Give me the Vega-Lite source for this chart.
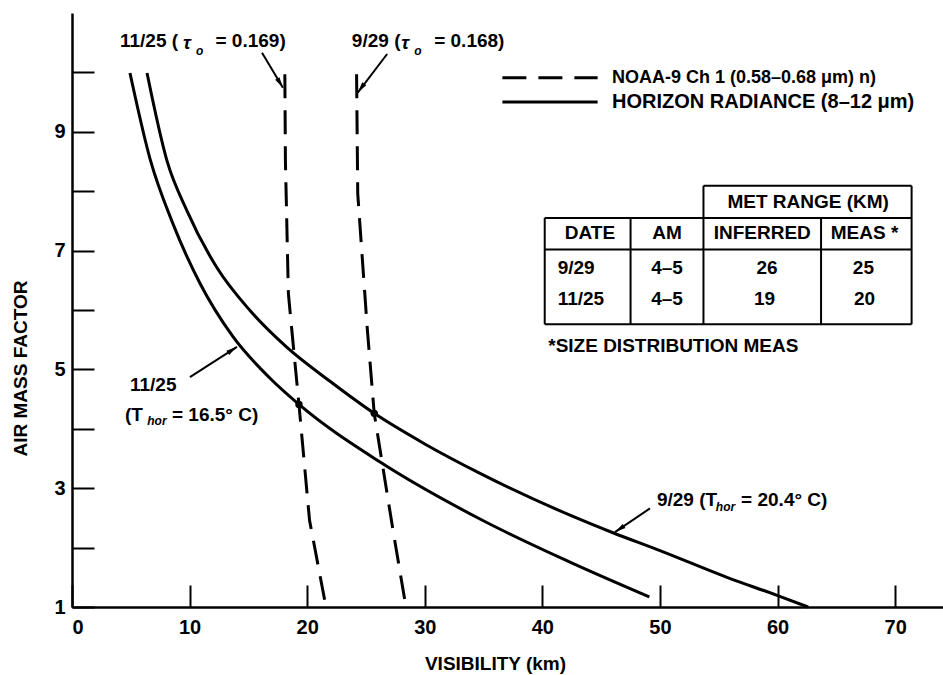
{
  "$schema": "https://vega.github.io/schema/vega-lite/v6.json",
  "width": 871,
  "height": 594,
  "autosize": "none",
  "padding": {"left": 72, "top": 13, "right": 0, "bottom": 68},
  "background": "white",
  "config": {
    "view": {"stroke": null},
    "font": "Liberation Sans",
    "text": {"font": "Liberation Sans", "fontWeight": "bold", "color": "black"},
    "axis": {
      "labelFont": "Liberation Sans", "labelFontWeight": "bold", "labelFontSize": 20, "labelColor": "black",
      "titleFont": "Liberation Sans", "titleFontWeight": "bold", "titleFontSize": 19, "titleColor": "black",
      "domainColor": "black", "domainWidth": 2.5, "tickColor": "black", "tickWidth": 2, "grid": false
    }
  },
  "datasets": {
    "curves": [
      {"series": "hr1125", "x": 4.93, "y": 9.99},
      {"series": "hr1125", "x": 6.63, "y": 8.55},
      {"series": "hr1125", "x": 8.59, "y": 7.45},
      {"series": "hr1125", "x": 10.88, "y": 6.45},
      {"series": "hr1125", "x": 13.69, "y": 5.55},
      {"series": "hr1125", "x": 16.84, "y": 4.85},
      {"series": "hr1125", "x": 19.3, "y": 4.41},
      {"series": "hr1125", "x": 26.2, "y": 3.44},
      {"series": "hr1125", "x": 34.9, "y": 2.46},
      {"series": "hr1125", "x": 42.3, "y": 1.76},
      {"series": "hr1125", "x": 49.1, "y": 1.17},
      {"series": "hr929", "x": 6.38, "y": 9.99},
      {"series": "hr929", "x": 8.08, "y": 8.51},
      {"series": "hr929", "x": 9.78, "y": 7.67},
      {"series": "hr929", "x": 12.33, "y": 6.71},
      {"series": "hr929", "x": 15.14, "y": 5.99},
      {"series": "hr929", "x": 18.28, "y": 5.37},
      {"series": "hr929", "x": 21.94, "y": 4.8},
      {"series": "hr929", "x": 25.7, "y": 4.26},
      {"series": "hr929", "x": 30.0, "y": 3.745},
      {"series": "hr929", "x": 34.7, "y": 3.25},
      {"series": "hr929", "x": 42.3, "y": 2.55},
      {"series": "hr929", "x": 46.0, "y": 2.25},
      {"series": "hr929", "x": 50.0, "y": 1.95},
      {"series": "hr929", "x": 55.7, "y": 1.5},
      {"series": "hr929", "x": 59.9, "y": 1.2},
      {"series": "hr929", "x": 62.6, "y": 1.0}
    ],
    "noaa": [
      {"series": "n1125", "x": 18.1, "y": 9.97},
      {"series": "n1125", "x": 18.15, "y": 8.5},
      {"series": "n1125", "x": 18.4, "y": 6.28},
      {"series": "n1125", "x": 18.8, "y": 5.44},
      {"series": "n1125", "x": 19.3, "y": 4.41},
      {"series": "n1125", "x": 20.2, "y": 2.46},
      {"series": "n1125", "x": 21.6, "y": 1.0},
      {"series": "n929", "x": 24.2, "y": 9.97},
      {"series": "n929", "x": 24.3, "y": 7.96},
      {"series": "n929", "x": 25.1, "y": 5.71},
      {"series": "n929", "x": 25.7, "y": 4.26},
      {"series": "n929", "x": 27.3, "y": 2.29},
      {"series": "n929", "x": 28.4, "y": 1.0}
    ],
    "dots": [
      {"x": 19.3, "y": 4.41},
      {"x": 25.7, "y": 4.26}
    ],
    "tablelines": [
      {"x": 53.7, "x2": 71.4, "y": 8.09, "y2": 8.09},
      {"x": 40.2, "x2": 71.4, "y": 7.55, "y2": 7.55},
      {"x": 40.2, "x2": 71.4, "y": 7.02, "y2": 7.02},
      {"x": 40.2, "x2": 71.4, "y": 5.76, "y2": 5.76},
      {"x": 40.2, "x2": 40.2, "y": 5.76, "y2": 7.55},
      {"x": 47.5, "x2": 47.5, "y": 5.76, "y2": 7.55},
      {"x": 53.7, "x2": 53.7, "y": 5.76, "y2": 8.09},
      {"x": 63.7, "x2": 63.7, "y": 5.76, "y2": 7.55},
      {"x": 71.4, "x2": 71.4, "y": 5.76, "y2": 8.09}
    ],
    "arrows": [
      {"x": 16.16, "x2": 17.94, "y": 10.33, "y2": 9.74},
      {"x": 26.8, "x2": 24.3, "y": 10.31, "y2": 9.66},
      {"x": 10.03, "x2": 14.03, "y": 4.87, "y2": 5.38},
      {"x": 49.15, "x2": 46.17, "y": 2.66, "y2": 2.26}
    ],
    "tabletext": [
      {"t": "MET RANGE (KM)", "x": 62.6, "y": 7.81},
      {"t": "DATE", "x": 44.05, "y": 7.29},
      {"t": "AM", "x": 50.6, "y": 7.29},
      {"t": "INFERRED", "x": 58.7, "y": 7.29},
      {"t": "MEAS *", "x": 67.4, "y": 7.29},
      {"t": "4–5", "x": 50.6, "y": 6.7},
      {"t": "26", "x": 59.1, "y": 6.7},
      {"t": "25", "x": 67.3, "y": 6.7},
      {"t": "4–5", "x": 50.6, "y": 6.19},
      {"t": "19", "x": 58.9, "y": 6.19},
      {"t": "20", "x": 67.4, "y": 6.19}
    ],
    "lefttext": [
      {"t": "9/29", "x": 41.3, "y": 6.7, "s": "tab"},
      {"t": "11/25", "x": 41.3, "y": 6.19, "s": "tab"},
      {"t": "*SIZE DISTRIBUTION MEAS", "x": 40.5, "y": 5.4, "s": "tab"},
      {"t": "NOAA-9 Ch 1 (0.58–0.68 μm)  n)", "x": 45.92, "y": 9.91, "s": "leg1"},
      {"t": "HORIZON RADIANCE (8–12 μm)", "x": 45.92, "y": 9.5, "s": "leg2"},
      {"t": "11/25 (", "x": 4.08, "y": 10.53, "s": "ann"},
      {"t": "= 0.169)", "x": 12.2, "y": 10.53, "s": "ann"},
      {"t": "9/29 (", "x": 23.8, "y": 10.53, "s": "ann"},
      {"t": "= 0.168)", "x": 30.8, "y": 10.53, "s": "ann"},
      {"t": "11/25", "x": 4.93, "y": 4.73, "s": "ann"},
      {"t": "(T", "x": 4.51, "y": 4.23, "s": "ann"},
      {"t": "= 16.5° C)", "x": 8.5, "y": 4.23, "s": "ann"},
      {"t": "9/29 (T", "x": 49.74, "y": 2.8, "s": "ann"},
      {"t": "= 20.4° C)", "x": 56.9, "y": 2.8, "s": "ann"}
    ],
    "tau": [
      {"t": "τ", "x": 9.45, "y": 10.5},
      {"t": "τ", "x": 28.0, "y": 10.5}
    ],
    "subs": [
      {"t": "o", "x": 10.55, "y": 10.36},
      {"t": "o", "x": 29.1, "y": 10.36},
      {"t": "hor", "x": 6.4, "y": 4.13},
      {"t": "hor", "x": 54.75, "y": 2.68}
    ]
  },
  "layer": [
    {
      "data": {"name": "curves"},
      "mark": {"type": "line", "color": "black", "strokeWidth": 3, "interpolate": "monotone"},
      "encoding": {
        "x": {"field": "x", "type": "quantitative", "scale": {"domain": [0, 74.07], "nice": false, "zero": false},
          "axis": {"values": [0, 10, 20, 30, 40, 50, 60, 70], "format": "d", "tickSize": -22, "labelPadding": 32, "title": "VISIBILITY  (km)", "titleX": 423, "titleY": 56, "titleBaseline": "middle", "titleAlign": "center"}},
        "y": {"field": "y", "type": "quantitative", "scale": {"domain": [1, 11], "nice": false, "zero": false},
          "axis": {"values": [1, 2, 3, 4, 5, 6, 7, 8, 9, 10], "format": "d", "tickSize": -22, "labelPadding": 29, "labelExpr": "datum.value % 2 == 1 ? datum.label : ''", "title": "AIR MASS FACTOR", "titleX": -52, "titleY": 355, "titleBaseline": "middle", "titleAlign": "center", "titleAngle": -90}},
        "detail": {"field": "series"}
      }
    },
    {
      "data": {"name": "noaa"},
      "mark": {"type": "line", "color": "black", "strokeWidth": 3, "strokeDash": [24, 12], "interpolate": "linear"},
      "encoding": {
        "x": {"field": "x", "type": "quantitative"},
        "y": {"field": "y", "type": "quantitative"},
        "detail": {"field": "series"},
        "order": {"field": "y", "sort": "descending"}
      }
    },
    {
      "data": {"name": "dots"},
      "mark": {"type": "point", "filled": true, "color": "black", "size": 55, "opacity": 1},
      "encoding": {"x": {"field": "x", "type": "quantitative"}, "y": {"field": "y", "type": "quantitative"}}
    },
    {
      "mark": {"type": "rule", "color": "black", "strokeWidth": 2.5},
      "encoding": {"y": {"datum": 11}}
    },
    {
      "data": {"name": "tablelines"},
      "mark": {"type": "rule", "color": "black", "strokeWidth": 2},
      "encoding": {"x": {"field": "x", "type": "quantitative"}, "x2": {"field": "x2"}, "y": {"field": "y", "type": "quantitative"}, "y2": {"field": "y2"}}
    },
    {
      "data": {"name": "arrows"},
      "mark": {"type": "rule", "color": "black", "strokeWidth": 2},
      "encoding": {"x": {"field": "x", "type": "quantitative"}, "x2": {"field": "x2"}, "y": {"field": "y", "type": "quantitative"}, "y2": {"field": "y2"}}
    },
    {
      "data": {"values": [{"x": 17.94, "y": 9.74}]},
      "mark": {"type": "point", "filled": true, "color": "black", "opacity": 1, "size": 100, "shape": "M0,0L0.5,2.2L-0.5,2.2Z", "angle": 149},
      "encoding": {"x": {"field": "x", "type": "quantitative"}, "y": {"field": "y", "type": "quantitative"}}
    },
    {
      "data": {"values": [{"x": 24.3, "y": 9.66}]},
      "mark": {"type": "point", "filled": true, "color": "black", "opacity": 1, "size": 100, "shape": "M0,0L0.5,2.2L-0.5,2.2Z", "angle": 216.6},
      "encoding": {"x": {"field": "x", "type": "quantitative"}, "y": {"field": "y", "type": "quantitative"}}
    },
    {
      "data": {"values": [{"x": 14.03, "y": 5.38}]},
      "mark": {"type": "point", "filled": true, "color": "black", "opacity": 1, "size": 100, "shape": "M0,0L0.5,2.2L-0.5,2.2Z", "angle": 57},
      "encoding": {"x": {"field": "x", "type": "quantitative"}, "y": {"field": "y", "type": "quantitative"}}
    },
    {
      "data": {"values": [{"x": 46.17, "y": 2.26}]},
      "mark": {"type": "point", "filled": true, "color": "black", "opacity": 1, "size": 100, "shape": "M0,0L0.5,2.2L-0.5,2.2Z", "angle": 235.6},
      "encoding": {"x": {"field": "x", "type": "quantitative"}, "y": {"field": "y", "type": "quantitative"}}
    },
    {
      "data": {"values": [{"x": 36.6, "x2": 44.7, "y": 9.91}]},
      "mark": {"type": "rule", "color": "black", "strokeWidth": 3, "strokeDash": [24, 12]},
      "encoding": {"x": {"field": "x", "type": "quantitative"}, "x2": {"field": "x2"}, "y": {"field": "y", "type": "quantitative"}}
    },
    {
      "data": {"values": [{"x": 36.6, "x2": 44.7, "y": 9.5}]},
      "mark": {"type": "rule", "color": "black", "strokeWidth": 3},
      "encoding": {"x": {"field": "x", "type": "quantitative"}, "x2": {"field": "x2"}, "y": {"field": "y", "type": "quantitative"}}
    },
    {
      "data": {"name": "tabletext"},
      "mark": {"type": "text", "fontSize": 19, "align": "center", "baseline": "middle"},
      "encoding": {"x": {"field": "x", "type": "quantitative"}, "y": {"field": "y", "type": "quantitative"}, "text": {"field": "t"}}
    },
    {
      "data": {"name": "lefttext"},
      "transform": [{"filter": "datum.s == 'tab'"}],
      "mark": {"type": "text", "fontSize": 19, "align": "left", "baseline": "middle"},
      "encoding": {"x": {"field": "x", "type": "quantitative"}, "y": {"field": "y", "type": "quantitative"}, "text": {"field": "t"}}
    },
    {
      "data": {"name": "lefttext"},
      "transform": [{"filter": "datum.s == 'leg1'"}],
      "mark": {"type": "text", "fontSize": 18, "align": "left", "baseline": "middle"},
      "encoding": {"x": {"field": "x", "type": "quantitative"}, "y": {"field": "y", "type": "quantitative"}, "text": {"field": "t"}}
    },
    {
      "data": {"name": "lefttext"},
      "transform": [{"filter": "datum.s == 'leg2'"}],
      "mark": {"type": "text", "fontSize": 20, "align": "left", "baseline": "middle"},
      "encoding": {"x": {"field": "x", "type": "quantitative"}, "y": {"field": "y", "type": "quantitative"}, "text": {"field": "t"}}
    },
    {
      "data": {"name": "lefttext"},
      "transform": [{"filter": "datum.s == 'ann'"}],
      "mark": {"type": "text", "fontSize": 19, "align": "left", "baseline": "middle"},
      "encoding": {"x": {"field": "x", "type": "quantitative"}, "y": {"field": "y", "type": "quantitative"}, "text": {"field": "t"}}
    },
    {
      "data": {"name": "tau"},
      "mark": {"type": "text", "fontSize": 19, "fontStyle": "italic", "align": "left", "baseline": "middle"},
      "encoding": {"x": {"field": "x", "type": "quantitative"}, "y": {"field": "y", "type": "quantitative"}, "text": {"field": "t"}}
    },
    {
      "data": {"name": "subs"},
      "mark": {"type": "text", "fontSize": 12, "fontStyle": "italic", "align": "left", "baseline": "middle"},
      "encoding": {"x": {"field": "x", "type": "quantitative"}, "y": {"field": "y", "type": "quantitative"}, "text": {"field": "t"}}
    }
  ]
}
